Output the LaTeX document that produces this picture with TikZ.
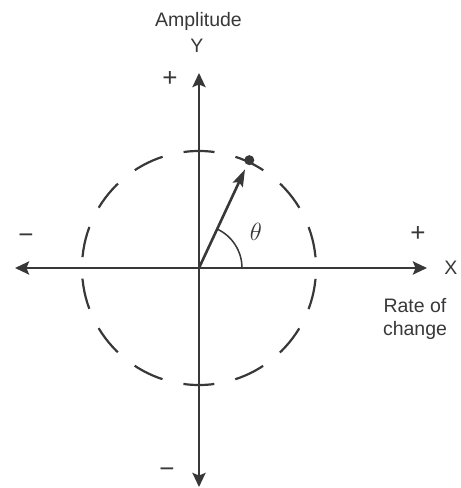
\documentclass[tikz,border=0pt]{standalone}
\usepackage{fontspec}
\setmainfont{Liberation Sans}
\usetikzlibrary{arrows.meta}
\definecolor{tinta}{HTML}{383838}

\begin{document}
\begin{tikzpicture}[
    x=1pt,y=1pt,
    every node/.style={font=\fontsize{19.5}{23}\selectfont,align=center,text=tinta,inner sep=0pt},
    axis/.style={draw=tinta,line width=2.6pt,{Stealth[length=14pt,width=13pt,inset=2.5pt]}-{Stealth[length=14pt,width=13pt,inset=2.5pt]}},
    ring/.style={draw=tinta,line width=2.2pt,dash pattern=on 31pt off 21.5pt,dash phase=41.75pt},
    vector/.style={draw=tinta,line width=2.6pt,-{Stealth[length=17pt,width=11pt,inset=3pt]},shorten >=5pt},
    dot/.style={circle,fill=tinta,minimum size=10pt},
    sign/.style={font=\fontsize{26}{26}\selectfont,text height=8pt,text depth=0pt}
  ]
    \useasboundingbox (-199,-220) rectangle (262,268);
    \coordinate (O) at (0,0);
    \coordinate (top) at (0,195);
    \coordinate (bottom) at (0,-219);
    \coordinate (left) at (-184,0);
    \coordinate (right) at (228,0);
    \node[dot] (tip) at (65:119) {};

    \draw[axis] (left) -- (right);
    \draw[axis] (bottom) -- (top);
    \draw[ring] (O) circle[radius=117pt];
    \draw[vector] (O) -- (tip);
    \draw[draw=tinta,line width=1.5pt] (O) ++(43pt,0) arc[start angle=0,end angle=65,radius=43pt];

    \node[anchor=base] (amp) at (-0.5,241) {Amplitude};
    \node[anchor=base] (ylab) at (-2,215) {Y};
    \node (xlab) at (252,0) {X};
    \node[anchor=base] (rate) at (216,-67) {Rate of\\change};
    \node[font=\fontsize{25}{25}\selectfont] (theta) at (57,36) {$\theta$};
    \node[sign] (ypos) at (-29,186) {+};
    \node[sign] (yneg) at (-32,-205) {−};
    \node[sign] (xneg) at (-173,29) {−};
    \node[sign] (xpos) at (219,31) {+};
  \end{tikzpicture}
\end{document}
